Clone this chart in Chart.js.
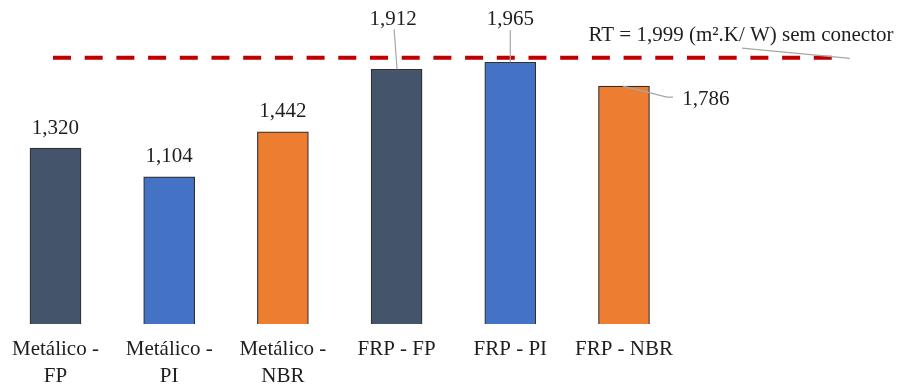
<!DOCTYPE html>
<html>
<head>
<meta charset="utf-8">
<script src="https://cdn.jsdelivr.net/npm/chart.js@4/dist/chart.umd.min.js"></script>
<style>
  html, body { margin: 0; padding: 0; background: #fff; }
  canvas { display: block; }
</style>
</head>
<body>
<canvas id="chart" width="898" height="385"></canvas>
<script>
// dados do gráfico
const categories = [['Metálico -', 'FP'], ['Metálico -', 'PI'], ['Metálico -', 'NBR'], 'FRP - FP', 'FRP - PI', 'FRP - NBR'];
const resistencia = [1.320, 1.104, 1.442, 1.912, 1.965, 1.786];
const referencia = 1.999;
const referenciaLabel = 'RT = 1,999 (m².K/ W) sem conector';
// extensão da linha tracejada (em unidades do eixo x)
const refInicio = -0.022;
const refFim = 6.847;

const cores = ['#44546A', '#4472C4', '#ED7D31', '#44546A', '#4472C4', '#ED7D31'];
const fonte = '"Liberation Serif", "Times New Roman", serif';

// posição dos rótulos: [dx, dy do texto, leader de (x1,y1) para (x2,y2)] relativos ao topo da barra
const rotulos = [
  { dx: 0, dy: -20 },
  { dx: 0, dy: -20 },
  { dx: 0, dy: -20 },
  { dx: -3.5, dy: -50, lead: [[-2.5, -40], [0.5, 0]] },
  { dx: 0, dy: -43, lead: [[0, -32], [0, 0]] },
  { dx: 82, dy: 13.5, lead: [[-1, 0], [43, 11], [49, 11]] }
];

const fmt = v => v.toFixed(3).replace('.', ',');

// plugin simples para rótulos de dados com linhas de chamada
const rotulosPlugin = {
  id: 'rotulos',
  afterDatasetsDraw(chart) {
    const ctx = chart.ctx;
    ctx.save();
    ctx.font = '21px ' + fonte;
    ctx.fillStyle = '#1e1e1e';
    ctx.textAlign = 'center';
    ctx.textBaseline = 'middle';
    ctx.strokeStyle = '#A6A6A6';
    ctx.lineWidth = 1.2;

    const barras = chart.getDatasetMeta(0).data;
    barras.forEach((bar, i) => {
      const r = rotulos[i];
      if (r.lead) {
        ctx.beginPath();
        r.lead.forEach((p, k) => {
          const px = bar.x + p[0], py = bar.y + p[1];
          if (k === 0) ctx.moveTo(px, py); else ctx.lineTo(px, py);
        });
        ctx.stroke();
      }
      ctx.fillText(fmt(resistencia[i]), bar.x + r.dx, bar.y + r.dy);
    });

    // rótulo da linha de referência
    const pts = chart.getDatasetMeta(1).data;
    const fim = pts[pts.length - 1];
    ctx.beginPath();
    ctx.moveTo(fim.x - 92, fim.y - 9.5);
    ctx.lineTo(fim.x + 16, fim.y + 0.6);
    ctx.stroke();
    ctx.fillText(referenciaLabel, fim.x - 93, fim.y - 22);
    ctx.restore();
  }
};

new Chart(document.getElementById('chart'), {
  type: 'bar',
  data: {
    datasets: [
      {
        data: resistencia.map((v, i) => ({ x: i, y: v })),
        backgroundColor: cores,
        borderColor: '#303030',
        borderWidth: 1.2,
        barThickness: 51,
        order: 2
      },
      {
        type: 'line',
        data: [{ x: refInicio, y: referencia }, { x: refFim, y: referencia }],
        borderColor: '#C00000',
        borderWidth: 4,
        borderDash: [18, 13.7],
        pointRadius: 0,
        order: 1
      }
    ]
  },
  options: {
    responsive: false,
    animation: false,
    devicePixelRatio: 1,
    layout: { padding: 0 },
    plugins: {
      legend: { display: false },
      tooltip: { enabled: false }
    },
    scales: {
      x: {
        type: 'linear',
        offset: false,
        min: -0.488,
        max: 7.41,
        grid: { display: false, drawTicks: false, offset: false },
        border: { display: false },
        afterBuildTicks: axis => { axis.ticks = categories.map((c, i) => ({ value: i })); },
        afterFit: axis => { axis.height = 61; },
        ticks: {
          padding: 12,
          maxRotation: 0,
          autoSkip: false,
          color: '#1e1e1e',
          font: { family: fonte, size: 21, lineHeight: 1.3 },
          callback: v => categories[v]
        }
      },
      y: {
        display: false,
        min: 0,
        max: 2.432
      }
    }
  },
  plugins: [rotulosPlugin]
});
</script>
</body>
</html>
